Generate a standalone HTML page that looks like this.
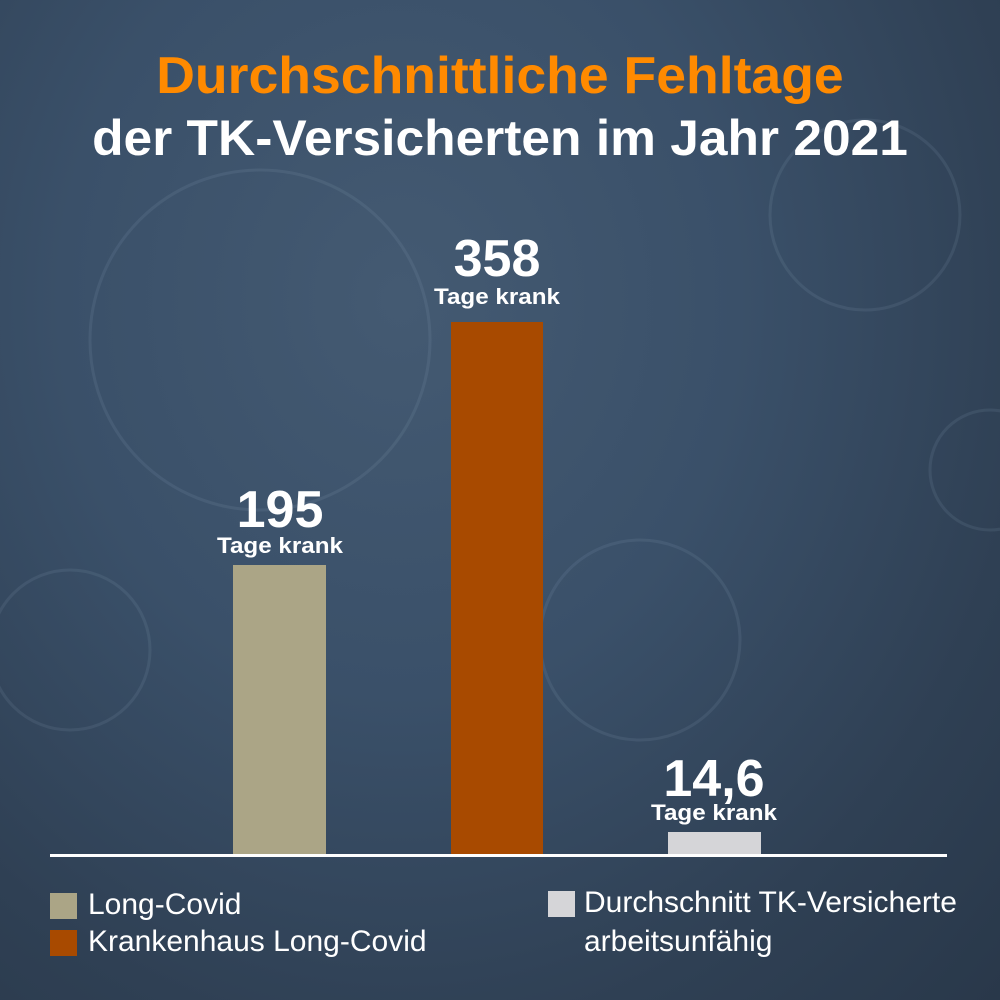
<!DOCTYPE html>
<html><head><meta charset="utf-8"><style>
body{margin:0;width:1000px;height:1000px;overflow:hidden;font-family:"Liberation Sans",sans-serif;}
#bg{position:absolute;left:0;top:0;width:1000px;height:1000px;background:radial-gradient(ellipse at 40% 30%,#445a72 0%,#3a5069 40%,#2f4054 75%,#29384a 100%);}
.t{position:absolute;white-space:nowrap;color:#fff;font-weight:bold;transform-origin:center top;}
.bar{position:absolute;}
.sq{position:absolute;width:27px;height:26px;}
.lg{position:absolute;color:#fff;font-size:30px;white-space:nowrap;transform-origin:left top;}
</style></head><body>
<div id="bg">
<svg width="1000" height="1000" style="position:absolute;left:0;top:0;opacity:0.1">
<g fill="none" stroke="#a9c0d6" stroke-width="3">
<circle cx="260" cy="340" r="170"/><circle cx="865" cy="215" r="95"/><circle cx="640" cy="640" r="100"/><circle cx="70" cy="650" r="80"/><circle cx="990" cy="470" r="60"/>
</g></svg>
<div class="t" style="left:0;width:1000px;text-align:center;top:46px;font-size:52px;color:#ff8a00;transform:scaleX(1.03)">Durchschnittliche Fehltage</div>
<div class="t" style="left:0;width:1000px;text-align:center;top:109px;font-size:50px;transform:scaleX(1.03)">der TK-Versicherten im Jahr 2021</div>

<div class="t" style="left:180px;width:200px;text-align:center;top:480px;font-size:52px">195</div>
<div class="t" style="left:180px;width:200px;text-align:center;top:533px;font-size:22px;transform:scaleX(1.1)">Tage krank</div>
<div class="t" style="left:397px;width:200px;text-align:center;top:229px;font-size:52px">358</div>
<div class="t" style="left:397px;width:200px;text-align:center;top:284px;font-size:22px;transform:scaleX(1.1)">Tage krank</div>
<div class="t" style="left:614px;width:200px;text-align:center;top:749px;font-size:52px">14,6</div>
<div class="t" style="left:614px;width:200px;text-align:center;top:800px;font-size:22px;transform:scaleX(1.1)">Tage krank</div>

<div class="bar" style="left:233px;top:565px;width:93px;height:290px;background:#aba586"></div>
<div class="bar" style="left:451px;top:322px;width:92px;height:533px;background:#a84a00"></div>
<div class="bar" style="left:668px;top:832px;width:93px;height:23px;background:#d5d5d8"></div>
<div class="bar" style="left:50px;top:854px;width:897px;height:3px;background:#fff"></div>

<div class="sq" style="left:50px;top:893px;background:#aba586"></div>
<div class="lg" style="left:88px;top:888px">Long-Covid</div>
<div class="sq" style="left:50px;top:930px;background:#a84a00"></div>
<div class="lg" style="left:88px;top:925px">Krankenhaus Long-Covid</div>
<div class="sq" style="left:548px;top:891px;background:#d5d5d8"></div>
<div class="lg" style="left:584px;top:886px">Durchschnitt TK-Versicherte</div>
<div class="lg" style="left:584px;top:925px">arbeitsunfähig</div>
</div>
</body></html>
